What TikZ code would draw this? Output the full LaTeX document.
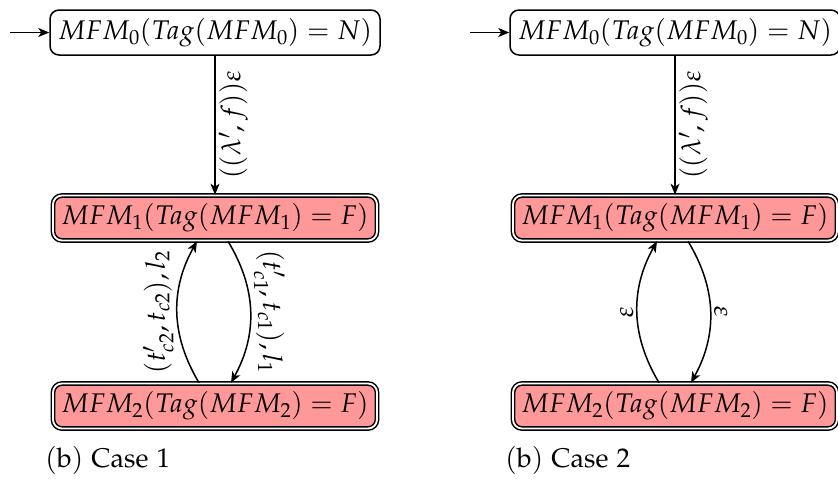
\documentclass[tikz,border=0pt]{standalone}
\usepackage{mathpazo}
\usetikzlibrary{arrows.meta}
\definecolor{accfill}{RGB}{255,153,153}
\begin{document}
\begin{tikzpicture}[x=1pt,y=-1pt,
  font=\fontsize{27}{32}\selectfont,
  state/.style={draw, rounded corners=9pt, line width=1.5pt, minimum width=330pt, minimum height=45pt, inner sep=0pt},
  accept/.style={state, fill=accfill, double, double distance=1.8pt, minimum width=324pt},
  edge/.style={line width=1.5pt, -{Stealth[length=11pt,width=9pt,inset=3pt]}},
  lbl/.style={inner sep=3pt}]
\useasboundingbox (0,0) rectangle (838,482);
% Case 1
\node[state] (a0) at (215,32.5) {$MFM_0(Tag(MFM_0) = N)$};
\node[accept] (a1) at (215,218) {$MFM_1(Tag(MFM_1) = F)$};
\node[accept] (a2) at (215,406) {$MFM_2(Tag(MFM_2) = F)$};
\coordinate (as) at (10,32.5);
\draw[edge] (as) -- (a0);
\draw[edge] (a0) -- node[lbl, anchor=north, rotate=90] {$((\lambda',f))\varepsilon$} (a1);
\draw[edge] ([xshift=13pt]a1.south) to[bend left=30] node[lbl, anchor=south, rotate=-90] {$(t'_{c1},t_{c1}),l_1$} ([xshift=16pt]a2.north);
\draw[edge] ([xshift=-16pt]a2.north) to[bend left=30] node[lbl, anchor=south, rotate=90] {$(t'_{c2},t_{c2}),l_2$} ([xshift=-18pt]a1.south);
\node[anchor=west, inner sep=0pt] (c1) at (45,460) {$\mathrm{(b)\ Case\ 1}$};
% Case 2
\node[state] (b0) at (675,32.5) {$MFM_0(Tag(MFM_0) = N)$};
\node[accept] (b1) at (675,218) {$MFM_1(Tag(MFM_1) = F)$};
\node[accept] (b2) at (675,406) {$MFM_2(Tag(MFM_2) = F)$};
\coordinate (bs) at (470,32.5);
\draw[edge] (bs) -- (b0);
\draw[edge] (b0) -- node[lbl, anchor=north, rotate=90] {$((\lambda',f))\varepsilon$} (b1);
\draw[edge] ([xshift=13pt]b1.south) to[bend left=30] node[lbl, anchor=south, rotate=-90] {$\varepsilon$} ([xshift=16pt]b2.north);
\draw[edge] ([xshift=-16pt]b2.north) to[bend left=30] node[lbl, anchor=south, rotate=90] {$\varepsilon$} ([xshift=-18pt]b1.south);
\node[anchor=west, inner sep=0pt] (c2) at (505,460) {$\mathrm{(b)\ Case\ 2}$};
\end{tikzpicture}
\end{document}
